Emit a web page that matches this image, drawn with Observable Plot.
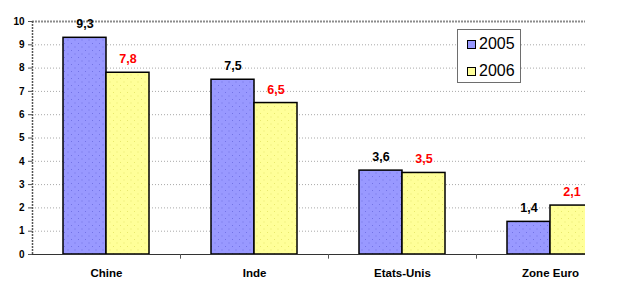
<!DOCTYPE html>
<html><head><meta charset="utf-8">
<script src="https://cdn.jsdelivr.net/npm/d3@7"></script>
<script src="https://cdn.jsdelivr.net/npm/@observablehq/plot@0.6"></script>
<style>
body{margin:0;background:#fff;font-family:"Liberation Sans",Arial,sans-serif;}
#wrap{position:relative;width:624px;height:298px;overflow:hidden;}
#legend{position:absolute;left:457px;top:29px;width:64px;height:54px;border:1px solid #6e6e6e;background:#fff;box-sizing:border-box;}
.li{position:absolute;left:9px;font-size:16px;line-height:16px;color:#000;}
.sw{position:absolute;left:0;top:4px;width:7px;height:7px;border:1px solid #000;}
.li span.t{position:absolute;left:12px;top:0;}
</style>
</head><body>
<div id="wrap"></div>
<script>
const categories = ["Chine", "Inde", "Etats-Unis", "Zone Euro"];
const years = ["2005", "2006"];
const values2005 = [9.3, 7.5, 3.6, 1.4];
const values2006 = [7.8, 6.5, 3.5, 2.1];
const yTicks = [0, 1, 2, 3, 4, 5, 6, 7, 8, 9, 10];
const yearColors = ["#9999ff", "#ffff99"];

const rows = categories.flatMap((c, i) => [
  {cat: c, year: years[0], value: values2005[i]},
  {cat: c, year: years[1], value: values2006[i]}
]);
const r2005 = rows.filter(d => d.year === years[0]);
const r2006 = rows.filter(d => d.year === years[1]);
const fmt = v => v.toFixed(1).replace(".", ",");

const W = 624, H = 298, mL = 32, mR = 39, mT = 21, mB = 44;
const step = (W - mL) / categories.length; // 148
const barW = 43;
const outer = (step - 2 * barW) / 2;

const chart = Plot.plot({
  width: W, height: H,
  marginLeft: mL, marginRight: mR, marginTop: mT, marginBottom: mB,
  style: {fontFamily: "'Liberation Sans', Arial, sans-serif", background: "white", color: "#000"},
  x: {type: "band", domain: categories, range: [mL, W], padding: 0, axis: null},
  y: {domain: [0, 10], axis: null},
  marks: [
    Plot.ruleY(yTicks.filter(d => d > 0 && d < 10), {stroke: "#a8a8a8", strokeDasharray: "1,2"}),
    Plot.ruleY([10], {stroke: "#8c8c8c", strokeWidth: 2, strokeDasharray: "2,1"}),
    Plot.barY(r2005, {x: "cat", y: "value", fill: "url(#p2005)", stroke: "#000", strokeWidth: 1.5, insetLeft: outer, insetRight: outer + barW, clip: true}),
    Plot.barY(r2006, {x: "cat", y: "value", fill: "url(#p2006)", stroke: "#000", strokeWidth: 1.5, insetLeft: outer + barW, insetRight: outer, clip: true}),
    Plot.ruleY([0], {stroke: "#333"}),
    Plot.ruleX([categories[0]], {x: d => d, y1: 0, y2: 10, dx: -step / 2, stroke: "#555", strokeDasharray: "2,1", strokeWidth: 1.5}),
    Plot.ruleX(categories.slice(1), {x: d => d, y1: 0, y2: -0.2, dx: -step / 2, stroke: "#555"}),
    Plot.axisY({ticks: yTicks, tickSize: 4, tickPadding: 4, fontSize: 10, fontWeight: "bold", tickFormat: d => d, stroke: "#555", label: null}),
    Plot.text(r2005, {x: "cat", y: "value", text: d => fmt(d.value), dx: -barW / 2, dy: -13.5, fontSize: 12.5, fontWeight: "bold", fill: "#000"}),
    Plot.text(r2006, {x: "cat", y: "value", text: d => fmt(d.value), dx: barW / 2, dy: -13.5, fontSize: 12.5, fontWeight: "bold", fill: "#ff0000"}),
    Plot.text(categories, {x: d => d, y: 0, text: d => d, dy: 19, fontSize: 11.5, fontWeight: "bold", fill: "#000"})
  ]
});

// patterns for the dotted bar fills
const ns = "http://www.w3.org/2000/svg";
const defs = document.createElementNS(ns, "defs");
[["p2005", yearColors[0], "#7373e6"], ["p2006", yearColors[1], "#e8e86e"]].forEach(([id, bg, dot]) => {
  const p = document.createElementNS(ns, "pattern");
  p.setAttribute("id", id); p.setAttribute("patternUnits", "userSpaceOnUse");
  p.setAttribute("width", 7); p.setAttribute("height", 7);
  const r = document.createElementNS(ns, "rect");
  r.setAttribute("width", 7); r.setAttribute("height", 7); r.setAttribute("fill", bg);
  p.appendChild(r);
  [[1, 1], [4.5, 4.5]].forEach(([x, y]) => {
    const c = document.createElementNS(ns, "rect");
    c.setAttribute("x", x); c.setAttribute("y", y); c.setAttribute("width", 1); c.setAttribute("height", 1); c.setAttribute("fill", dot);
    p.appendChild(c);
  });
  defs.appendChild(p);
});
chart.insertBefore(defs, chart.firstChild);

const wrap = document.getElementById("wrap");
wrap.appendChild(chart);

// legend
const leg = document.createElement("div");
leg.id = "legend";
years.forEach((y, i) => {
  const item = document.createElement("div");
  item.className = "li";
  item.style.top = (i === 0 ? 6 : 33) + "px";
  const sw = document.createElement("div");
  sw.className = "sw"; sw.style.background = yearColors[i];
  const t = document.createElement("span");
  t.className = "t"; t.textContent = y;
  item.appendChild(sw); item.appendChild(t);
  leg.appendChild(item);
});
wrap.appendChild(leg);
</script>
</body></html>
